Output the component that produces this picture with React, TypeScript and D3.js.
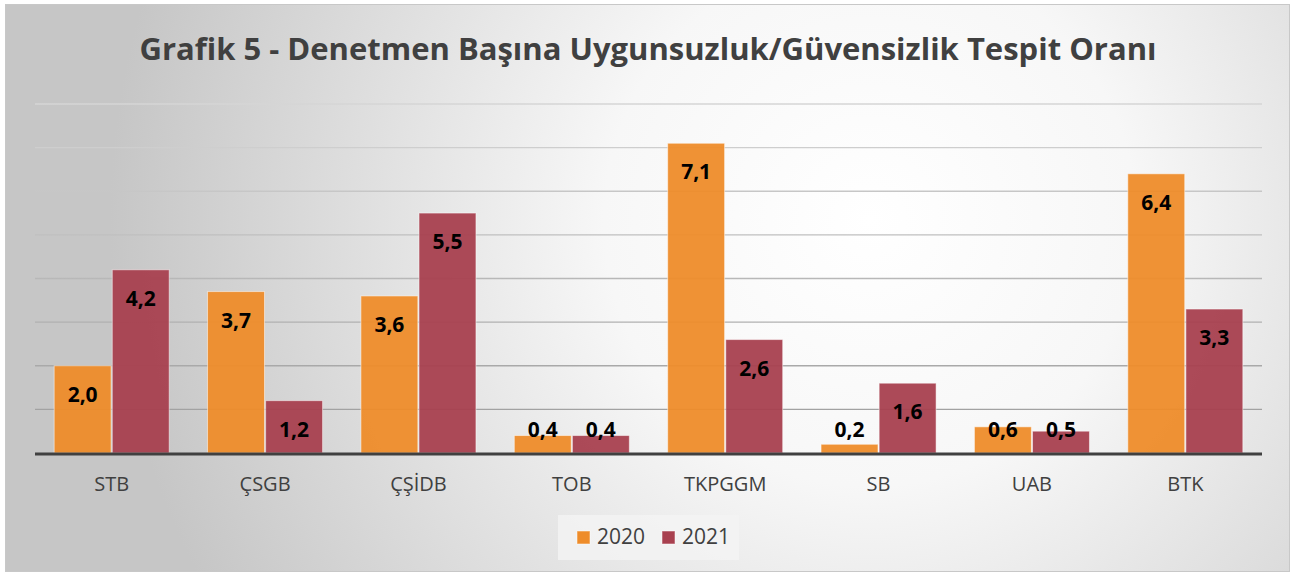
import React from "react";
import * as d3 from "d3";

const categories = ["STB", "ÇSGB", "ÇŞİDB", "TOB", "TKPGGM", "SB", "UAB", "BTK"];
const series2020 = [2.0, 3.7, 3.6, 0.4, 7.1, 0.2, 0.6, 6.4];
const series2021 = [4.2, 1.2, 5.5, 0.4, 2.6, 1.6, 0.5, 3.3];
const seriesNames = ["2020", "2021"];
const yTicks = [0, 1, 2, 3, 4, 5, 6, 7, 8];
const title = "Grafik 5 - Denetmen Başına Uygunsuzluk/Güvensizlik Tespit Oranı";

const W = 1292;
const H = 575;
const colors = ["#EE8C2A", "#A8404F"];
const font = "'Open Sans', 'DejaVu Sans', sans-serif";

export default function App() {
  const x = d3.scaleBand<string>().domain(categories).range([35, 1262]).paddingInner(0.25).paddingOuter(0.125);
  const x1 = d3.scaleBand<string>().domain(seriesNames).range([0, x.bandwidth()]).paddingInner(0.02);
  const y = d3.scaleLinear().domain([0, 8]).range([453, 104]);
  const fmt = (v: number) => d3.format(".1f")(v).replace(".", ",");
  const data = [series2020, series2021];

  return (
    <div style={{ position: "absolute", left: 0, top: 0 }}>
      <svg width={W} height={H} style={{ display: "block" }}>
        <defs>
          <radialGradient id="bg" cx="870" cy="220" r="760" gradientUnits="userSpaceOnUse">
            <stop offset="0" stopColor="#ffffff" />
            <stop offset="0.35" stopColor="#f7f7f7" />
            <stop offset="1" stopColor="#c6c6c6" />
          </radialGradient>
          <linearGradient id="gridg" x1="0" y1="100" x2="0" y2="420" gradientUnits="userSpaceOnUse">
            <stop offset="0" stopColor="#d6d6d6" />
            <stop offset="1" stopColor="#a0a0a0" />
          </linearGradient>
        </defs>
        <rect x={0} y={0} width={W} height={H} fill="#ffffff" />
        <rect x={5.5} y={4.5} width={W - 8} height={H - 8} fill="url(#bg)" stroke="#c8c8c8" strokeWidth={1} />
        <text x={648} y={60} textAnchor="middle" fontFamily={font} fontWeight={700} fontSize={31} fill="#404040">
          {title}
        </text>
        {yTicks.slice(1).map((t) => (
          <line key={t} x1={35} x2={1262} y1={y(t)} y2={y(t)} stroke="url(#gridg)" strokeWidth={1.3} />
        ))}
        {categories.map((c, i) => (
          <g key={c} transform={`translate(${x(c)},0)`}>
            {seriesNames.map((s, j) => {
              const v = data[j][i];
              const bx = x1(s)!;
              const top = y(v);
              const cy = Math.min(top + 28.5, 429);
              return (
                <g key={s}>
                  <rect x={bx} y={top} width={x1.bandwidth()} height={y(0) - top} fill={colors[j]} fillOpacity={0.95} stroke="#ffffff" strokeOpacity={0.5} strokeWidth={1} />
                  <text x={bx + x1.bandwidth() / 2} y={cy} dy="0.36em" textAnchor="middle" fontFamily={font} fontWeight={700} fontSize={21} fill="#000000">
                    {fmt(v)}
                  </text>
                </g>
              );
            })}
            <text x={x.bandwidth() / 2} y={491} textAnchor="middle" fontFamily={font} fontSize={20} fill="#404040">
              {c}
            </text>
          </g>
        ))}
        <line x1={35} x2={1262} y1={y(0) + 1} y2={y(0) + 1} stroke="#404040" strokeWidth={3} />
        <g>
          <rect x={558} y={515} width={181} height={45} fill="#f4f4f4" fillOpacity={0.8} />
          {seriesNames.map((s, j) => (
            <g key={s} transform={`translate(${577 + j * 85},531)`}>
              <rect x={0} y={0} width={13} height={13} fill={colors[j]} stroke="#ffffff" strokeOpacity={0.5} />
              <text x={20} y={13} fontFamily={font} fontSize={21} fill="#404040">
                {s}
              </text>
            </g>
          ))}
        </g>
      </svg>
    </div>
  );
}
